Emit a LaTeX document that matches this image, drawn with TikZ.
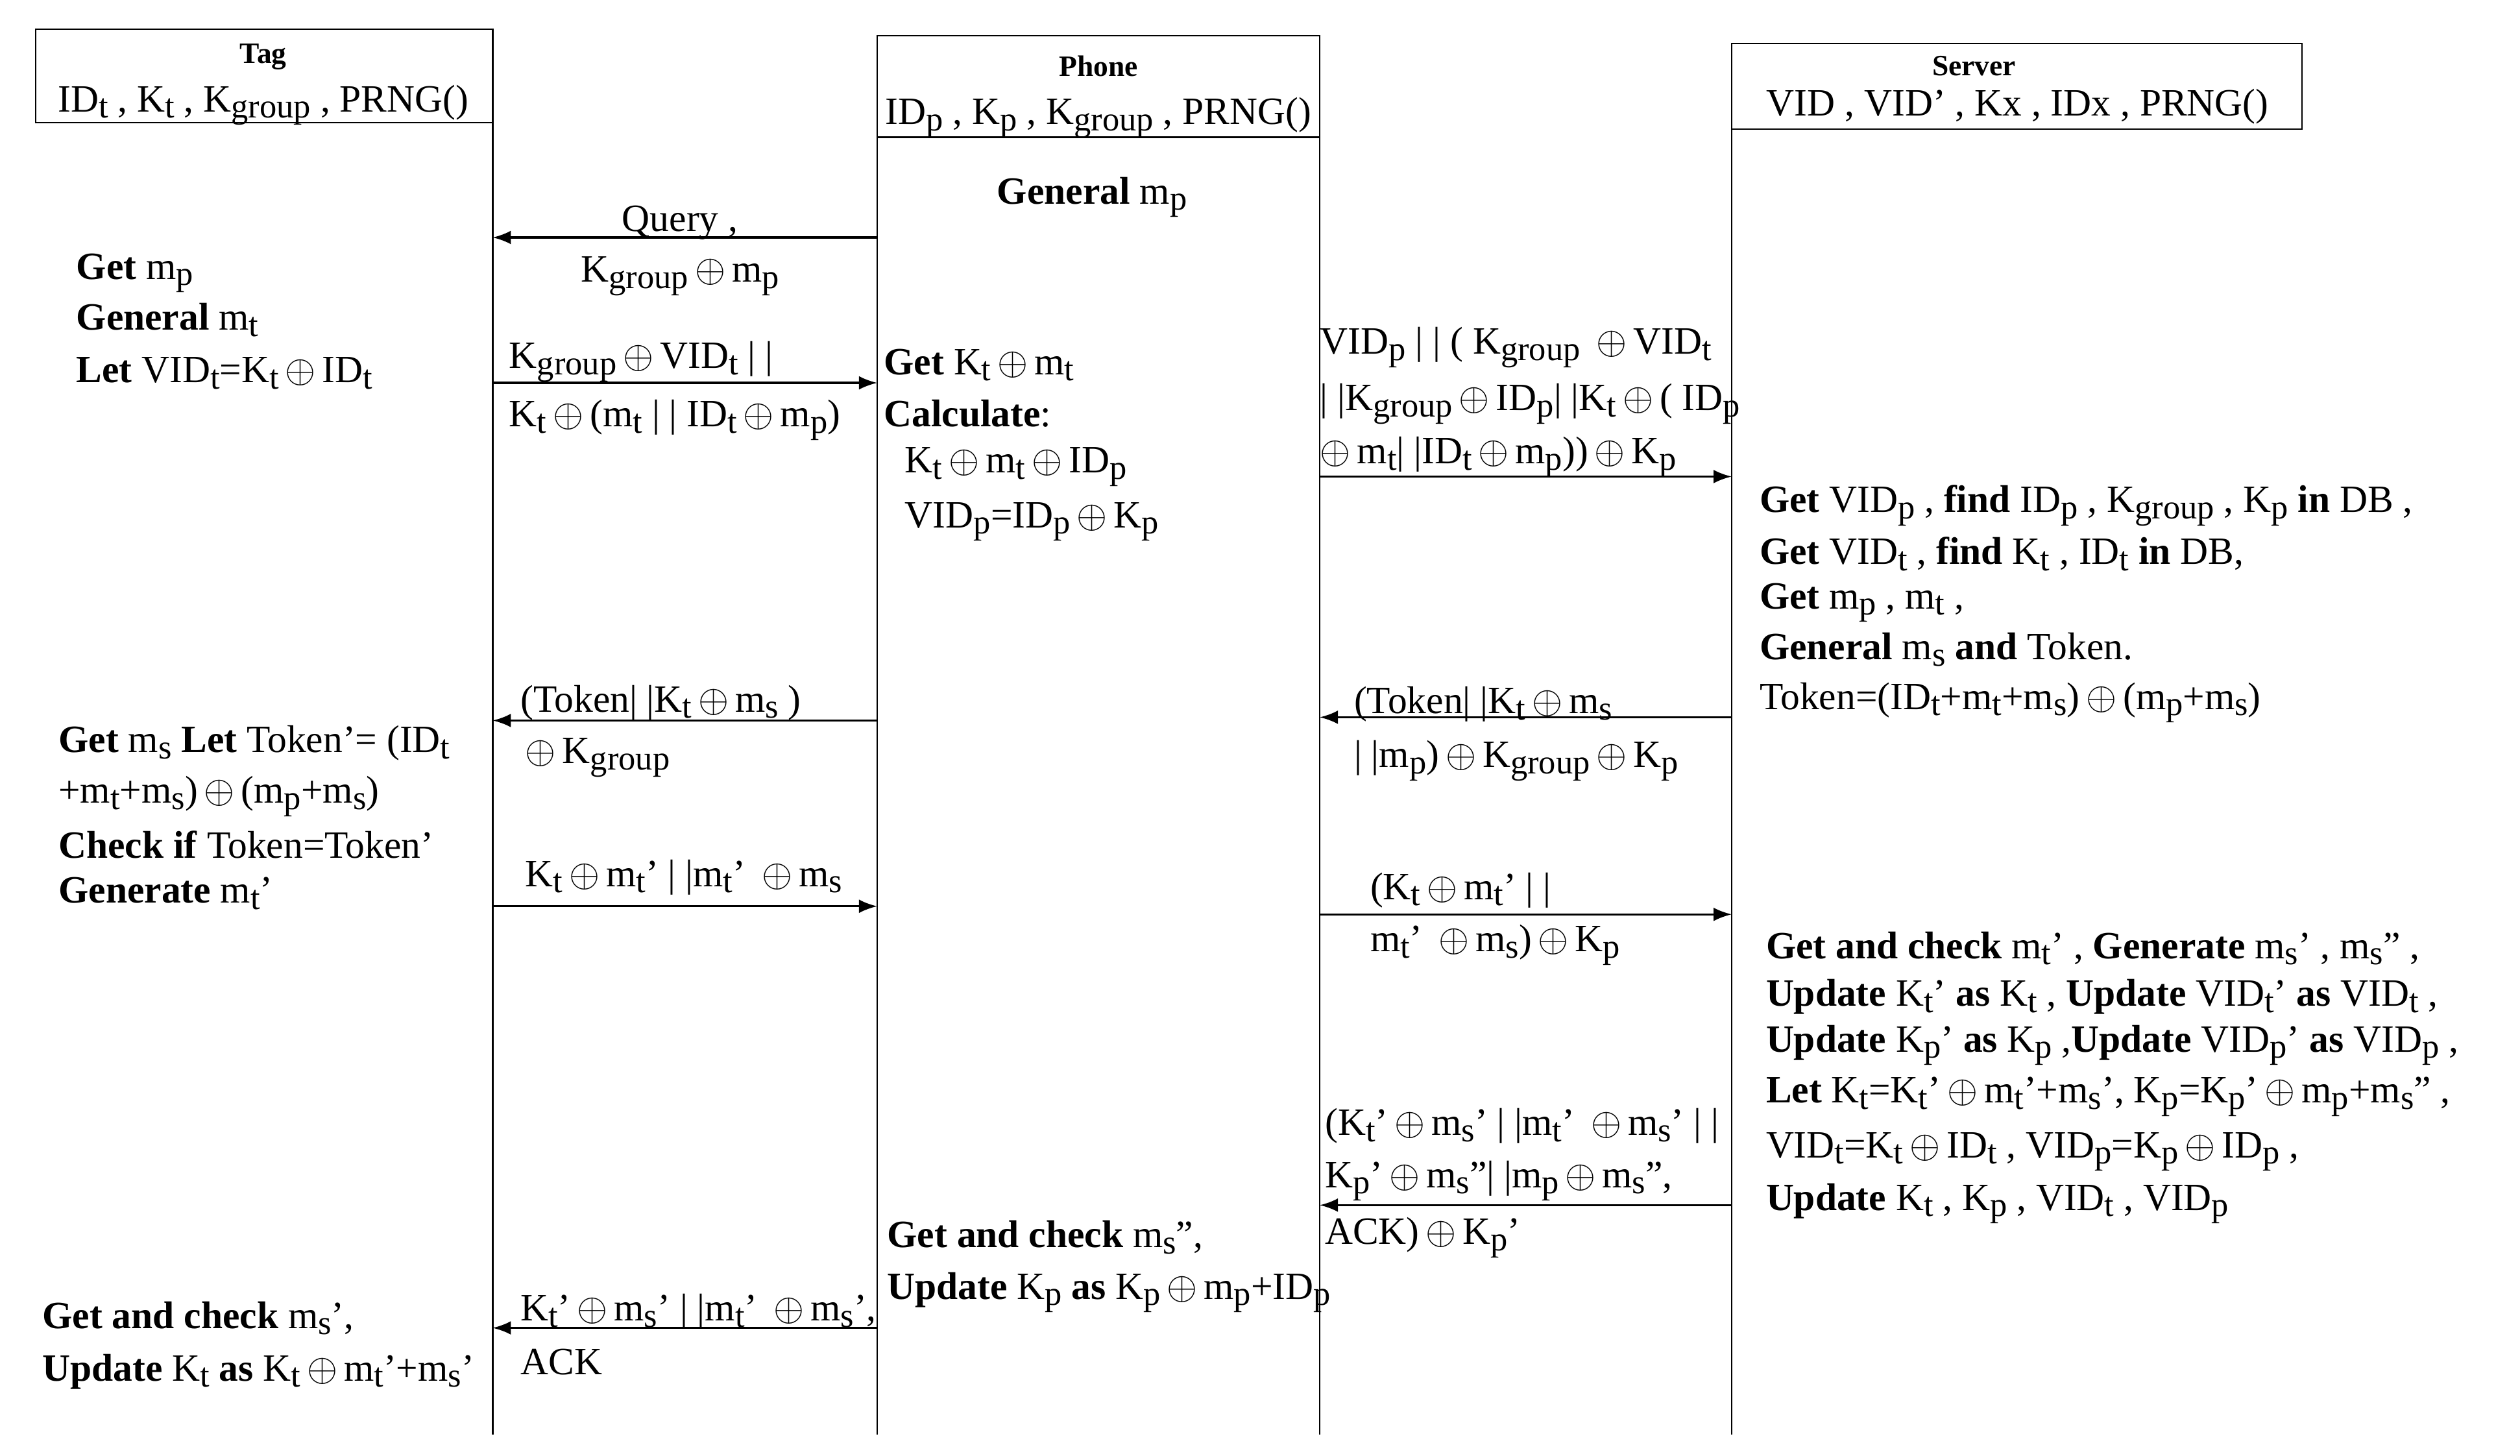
\documentclass[tikz,border=0pt]{standalone}
\usepackage{fontspec}
\setmainfont{Liberation Serif}
\usetikzlibrary{arrows.meta}
\newcommand{\su}[1]{\raisebox{-0.35ex}{\fontsize{15}{15}\selectfont #1}}
\newcommand{\xo}{\,$\oplus$\,}
\begin{document}
\begin{tikzpicture}[x=0.025cm,y=-0.025cm,
  txt/.style={font=\fontsize{17}{20}\selectfont, inner sep=0pt, anchor=west},
  ctxt/.style={font=\fontsize{17}{20}\selectfont, inner sep=0pt},
  ttl/.style={font=\fontsize{13}{15}\selectfont\bfseries, inner sep=0pt},
  life/.style={line width=0.7pt},
  msg/.style={line width=0.9pt,-{Latex[length=8pt,width=6pt]}}]
\useasboundingbox (0,0) rectangle (1560,901);
% boxes and lifelines
\draw[life] (22,18) rectangle (305,76);
\draw[life] (543,22) rectangle (817,85);
\draw[life] (1072,27) rectangle (1425,80);
\coordinate (T0) at (305,76); \coordinate (T1) at (305,888);
\coordinate (P0) at (543,85); \coordinate (P1) at (543,888);
\coordinate (Q0) at (817,85); \coordinate (Q1) at (817,888);
\coordinate (S0) at (1072,80); \coordinate (S1) at (1072,888);
\draw[life] (T0)--(T1); \draw[life] (P0)--(P1); \draw[life] (Q0)--(Q1); \draw[life] (S0)--(S1);
\node[ttl] (tagt) at (163,35) {Tag};
\node[ctxt] (tagv) at (163,65) {ID\su{t} , K\su{t} , K\su{group} , PRNG()};
\node[ttl] (phot) at (680,41) {Phone};
\node[ctxt] (phov) at (680,73) {ID\su{p} , K\su{p} , K\su{group} , PRNG()};
\node[ttl] (sert) at (1222,41) {Server};
\node[ctxt] (serv) at (1249,66) {VID , VID' , Kx , IDx , PRNG()};
% messages
\coordinate (m1a) at (543,147); \coordinate (m1b) at (305,147);
\draw[msg] (m1a)--(m1b);
\node[ctxt] (l1a) at (421,138) {Query ,};
\node[ctxt] (l1b) at (421,171) {K\su{group}\xo m\su{p}};
\coordinate (m2a) at (305,237); \coordinate (m2b) at (543,237);
\draw[msg] (m2a)--(m2b);
\node[txt] (l2a) at (315,224) {K\su{group}\xo VID\su{t} | |};
\node[txt] (l2b) at (315,260) {K\su{t}\xo(m\su{t} | | ID\su{t}\xo m\su{p})};
\coordinate (m3a) at (817,295); \coordinate (m3b) at (1072,295);
\draw[msg] (m3a)--(m3b);
\node[txt] (l3a) at (817,215) {VID\su{p} | | ( K\su{group} \xo VID\su{t}};
\node[txt] (l3b) at (817,250) {| |K\su{group}\xo ID\su{p}| |K\su{t}\xo( ID\su{p}};
\node[txt] (l3c) at (817,283) {$\oplus$\,m\su{t}| |ID\su{t}\xo m\su{p}))\xo K\su{p}};
\coordinate (m4a) at (1072,444); \coordinate (m4b) at (817,444);
\draw[msg] (m4a)--(m4b);
\node[txt] (l4a) at (838,436) {(Token| |K\su{t}\xo m\su{s}};
\node[txt] (l4b) at (838,471) {| |m\su{p})\xo K\su{group}\xo K\su{p}};
\coordinate (m5a) at (543,446); \coordinate (m5b) at (305,446);
\draw[msg] (m5a)--(m5b);
\node[txt] (l5a) at (322,435) {(Token| |K\su{t}\xo m\su{s} )};
\node[txt] (l5b) at (325,469) {$\oplus$\,K\su{group}};
\coordinate (m6a) at (305,561); \coordinate (m6b) at (543,561);
\draw[msg] (m6a)--(m6b);
\node[txt] (l6a) at (325,543) {K\su{t}\xo m\su{t}' | |m\su{t}' \xo m\su{s}};
\coordinate (m7a) at (817,566); \coordinate (m7b) at (1072,566);
\draw[msg] (m7a)--(m7b);
\node[txt] (l7a) at (848,551) {(K\su{t}\xo m\su{t}' | |};
\node[txt] (l7b) at (848,585) {m\su{t}' \xo m\su{s})\xo K\su{p}};
\coordinate (m8a) at (1072,746); \coordinate (m8b) at (817,746);
\draw[msg] (m8a)--(m8b);
\node[txt] (l8a) at (820,697) {(K\su{t}'\xo m\su{s}' | |m\su{t}' \xo m\su{s}' | |};
\node[txt] (l8b) at (820,731) {K\su{p}'\xo m\su{s}''| |m\su{p}\xo m\su{s}'',};
\node[txt] (l8c) at (820,766) {ACK)\xo K\su{p}'};
\coordinate (m9a) at (543,822); \coordinate (m9b) at (305,822);
\draw[msg] (m9a)--(m9b);
\node[txt] (l9a) at (322,812) {K\su{t}'\xo m\su{s}' | |m\su{t}' \xo m\su{s}',};
\node[txt] (l9b) at (322,843) {ACK};
% phone texts
\node[ctxt] (pg) at (676,122) {\textbf{General} m\su{p}};
\node[txt] (p1) at (547,226) {\textbf{Get} K\su{t}\xo m\su{t}};
\node[txt] (p2) at (547,256) {\textbf{Calculate}:};
\node[txt] (p3) at (560,289) {K\su{t}\xo m\su{t}\xo ID\su{p}};
\node[txt] (p4) at (560,323) {VID\su{p}=ID\su{p}\xo K\su{p}};
\node[txt] (p5) at (549,766) {\textbf{Get and check} m\su{s}'',};
\node[txt] (p6) at (549,800) {\textbf{Update} K\su{p} \textbf{as} K\su{p}\xo m\su{p}+ID\su{p}};
% tag texts
\node[txt] (t1) at (47,169) {\textbf{Get} m\su{p}};
\node[txt] (t2) at (47,198) {\textbf{General} m\su{t}};
\node[txt] (t3) at (47,231) {\textbf{Let} VID\su{t}=K\su{t}\xo ID\su{t}};
\node[txt] (t4) at (36,460) {\textbf{Get} m\su{s} \textbf{Let} Token'= (ID\su{t}};
\node[txt] (t5) at (36,493) {+m\su{t}+m\su{s})\xo(m\su{p}+m\su{s})};
\node[txt] (t6) at (36,523) {\textbf{Check if} Token=Token'};
\node[txt] (t7) at (36,553) {\textbf{Generate} m\su{t}'};
\node[txt] (t8) at (26,816) {\textbf{Get and check} m\su{s}',};
\node[txt] (t9) at (26,849) {\textbf{Update} K\su{t} \textbf{as} K\su{t}\xo m\su{t}'+m\su{s}'};
% server texts
\node[txt] (s1) at (1089,313) {\textbf{Get} VID\su{p} , \textbf{find} ID\su{p} , K\su{group} , K\su{p} \textbf{in} DB ,};
\node[txt] (s2) at (1089,343) {\textbf{Get} VID\su{t} , \textbf{find} K\su{t} , ID\su{t} \textbf{in} DB,};
\node[txt] (s3) at (1089,373) {\textbf{Get} m\su{p} , m\su{t} ,};
\node[txt] (s4) at (1089,402) {\textbf{General} m\su{s} \textbf{and} Token.};
\node[txt] (s5) at (1089,435) {Token=(ID\su{t}+m\su{t}+m\su{s})\xo(m\su{p}+m\su{s})};
\node[txt] (s6) at (1093,587) {\textbf{Get and check} m\su{t}' , \textbf{Generate} m\su{s}' , m\su{s}'' ,};
\node[txt] (s7) at (1093,617) {\textbf{Update} K\su{t}' \textbf{as} K\su{t} , \textbf{Update} VID\su{t}' \textbf{as} VID\su{t} ,};
\node[txt] (s8) at (1093,647) {\textbf{Update} K\su{p}' \textbf{as} K\su{p} ,\textbf{Update} VID\su{p}' \textbf{as} VID\su{p} ,};
\node[txt] (s9) at (1093,679) {\textbf{Let} K\su{t}=K\su{t}'\xo m\su{t}'+m\su{s}', K\su{p}=K\su{p}'\xo m\su{p}+m\su{s}'' ,};
\node[txt] (s10) at (1093,713) {VID\su{t}=K\su{t}\xo ID\su{t} , VID\su{p}=K\su{p}\xo ID\su{p} ,};
\node[txt] (s11) at (1093,745) {\textbf{Update} K\su{t} , K\su{p} , VID\su{t} , VID\su{p}};
\end{tikzpicture}
\end{document}
